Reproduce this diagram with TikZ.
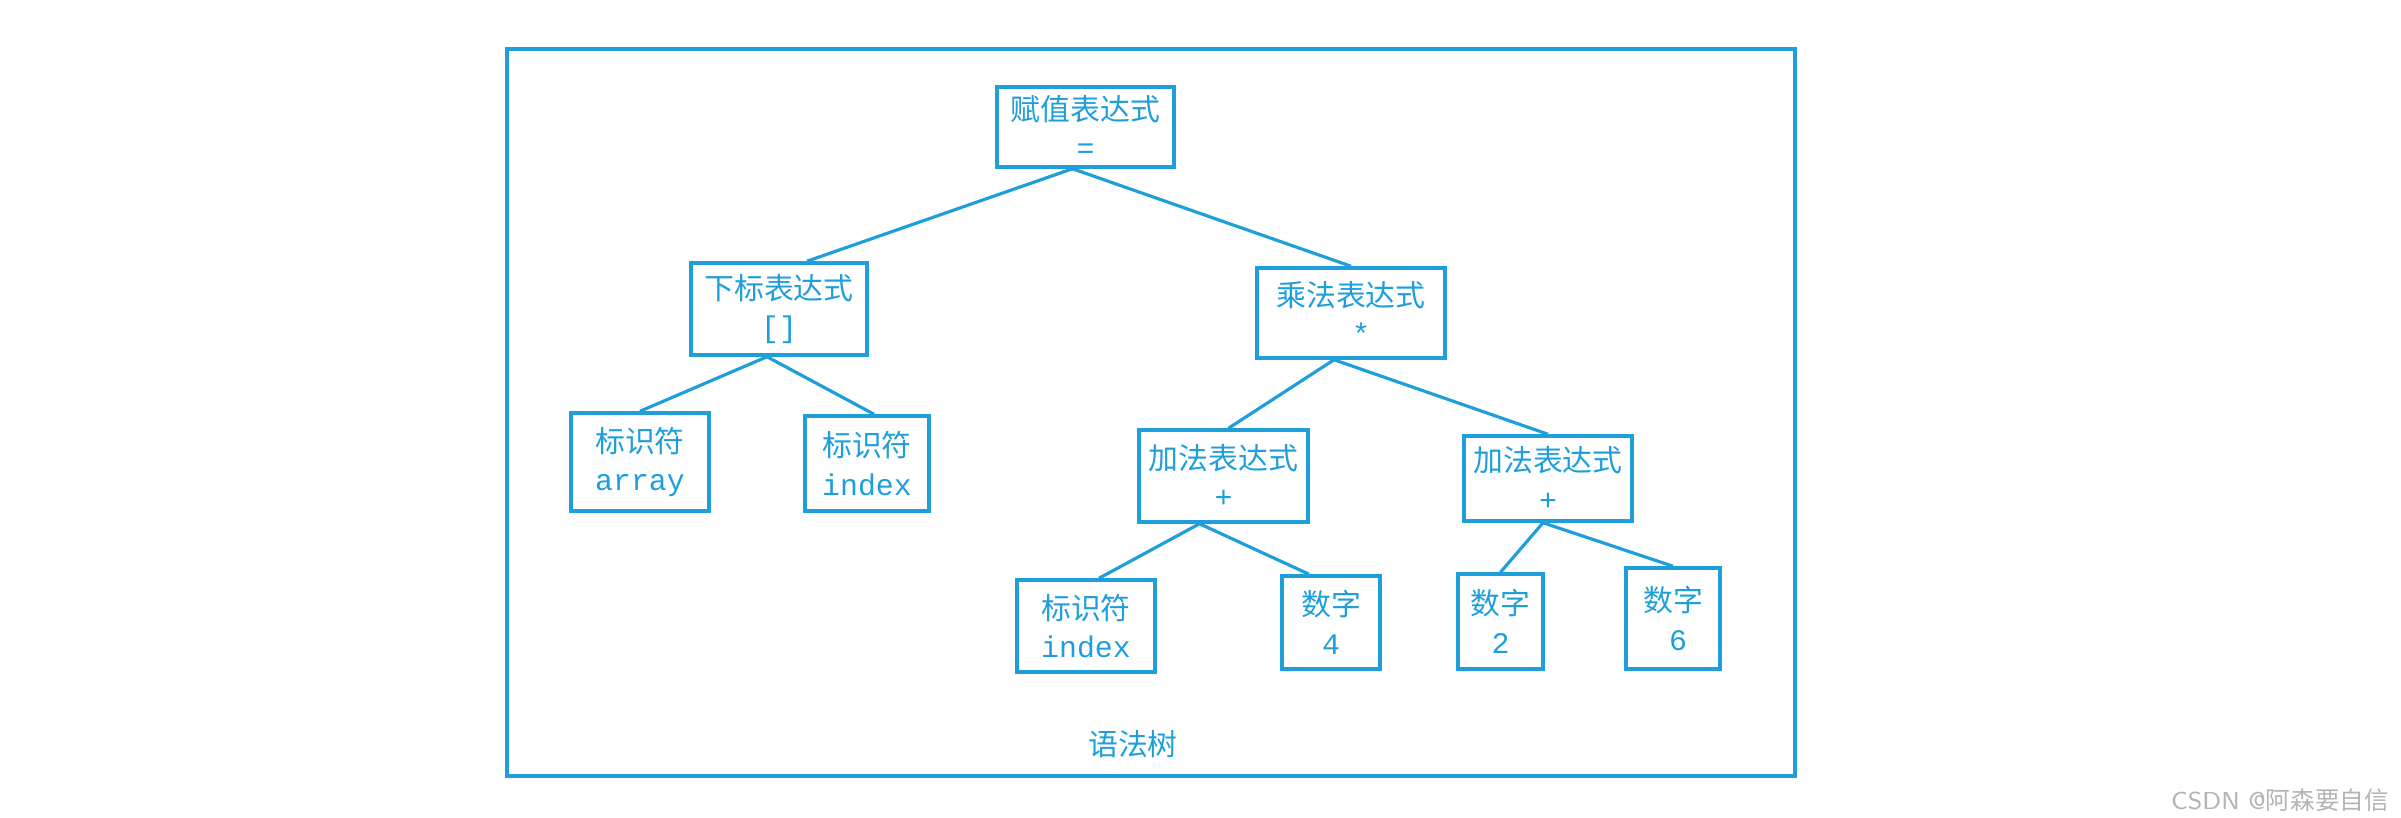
\documentclass[tikz,border=0pt]{standalone}
\usepackage{fontspec}
\setmonofont{Liberation Mono}
\newfontfamily\cjk{Noto Sans CJK SC}
\usepackage{xcolor}
\definecolor{customcolor1}{HTML}{1E9FDB}
\definecolor{customcolor2}{HTML}{B4B4B4}

\tikzset{treebox/.style={draw = customcolor1, line width = 1pt, text = customcolor1, align = center, inner sep = 0pt, font = \fontsize{8.5}{10}\selectfont}}

\begin{document}
\begin{tikzpicture}
        \useasboundingbox (0, 0) rectangle (24.01, -8.18);

        % Frame
        \draw [customcolor1, line width = 0.9pt] (5.07, -0.49) rectangle (17.95, -7.76);

        % Nodes
        \node [treebox, minimum width = 1.77cm, minimum height = 0.80cm] (a) at (10.855, -1.27) {\cjk 赋值表达式\\[1pt]\texttt{=}};
        \node [treebox, minimum width = 1.76cm, minimum height = 0.92cm] (b) at (7.79, -3.09) {\cjk 下标表达式\\[1pt]\texttt{[]}};
        \node [treebox, minimum width = 1.88cm, minimum height = 0.90cm] (c) at (13.51, -3.13) {\cjk 乘法表达式\\[1pt]\hspace{0.2cm}\texttt{*}};
        \node [treebox, minimum width = 1.38cm, minimum height = 0.98cm] (d) at (6.40, -4.62) {\cjk 标识符\\[1pt]\texttt{array}};
        \node [treebox, minimum width = 1.24cm, minimum height = 0.95cm] (e) at (8.67, -4.635) {\cjk 标识符\\[1pt]\texttt{index}};
        \node [treebox, minimum width = 1.69cm, minimum height = 0.92cm] (f) at (12.235, -4.76) {\cjk 加法表达式\\[1pt]\texttt{+}};
        \node [treebox, minimum width = 1.68cm, minimum height = 0.85cm] (g) at (15.48, -4.785) {\cjk 加法表达式\\[1pt]\texttt{+}};
        \node [treebox, minimum width = 1.38cm, minimum height = 0.92cm] (h) at (10.86, -6.26) {\cjk 标识符\\[1pt]\texttt{index}};
        \node [treebox, minimum width = 0.98cm, minimum height = 0.93cm] (i) at (13.31, -6.225) {\cjk 数字\\[1pt]\texttt{4}};
        \node [treebox, minimum width = 0.85cm, minimum height = 0.95cm] (j) at (15.005, -6.215) {\cjk 数字\\[1pt]\texttt{2}};
        \node [treebox, minimum width = 0.94cm, minimum height = 1.01cm] (k) at (16.73, -6.185) {\cjk 数字\\[1pt]\hspace{0.1cm}\texttt{6}};

        % Lines
        \draw [customcolor1, line width = 0.9pt] ([xshift = -0.13cm]a.south) -- ([xshift = 0.28cm]b.north);
        \draw [customcolor1, line width = 0.9pt] ([xshift = -0.13cm]a.south) -- (c.north);
        \draw [customcolor1, line width = 0.9pt] ([xshift = -0.12cm]b.south) -- (d.north);
        \draw [customcolor1, line width = 0.9pt] ([xshift = -0.12cm]b.south) -- ([xshift = 0.07cm]e.north);
        \draw [customcolor1, line width = 0.9pt] ([xshift = -0.17cm]c.south) -- ([xshift = 0.05cm]f.north);
        \draw [customcolor1, line width = 0.9pt] ([xshift = -0.17cm]c.south) -- (g.north);
        \draw [customcolor1, line width = 0.9pt] ([xshift = -0.24cm]f.south) -- ([xshift = 0.13cm]h.north);
        \draw [customcolor1, line width = 0.9pt] ([xshift = -0.24cm]f.south) -- ([xshift = -0.22cm]i.north);
        \draw [customcolor1, line width = 0.9pt] ([xshift = -0.05cm]g.south) -- (j.north);
        \draw [customcolor1, line width = 0.9pt] ([xshift = -0.05cm]g.south) -- (k.north);

        % Name
        \node [text = customcolor1, font = \fontsize{8.5}{10}\selectfont] (name) at (11.33, -7.44) {\cjk 语法树};
        \node [text = customcolor2, font = \fontsize{7}{8}\selectfont\sffamily] (mark) at (22.80, -8.00) {CSDN @{\cjk 阿森要自信}};

    \end{tikzpicture}
\end{document}
